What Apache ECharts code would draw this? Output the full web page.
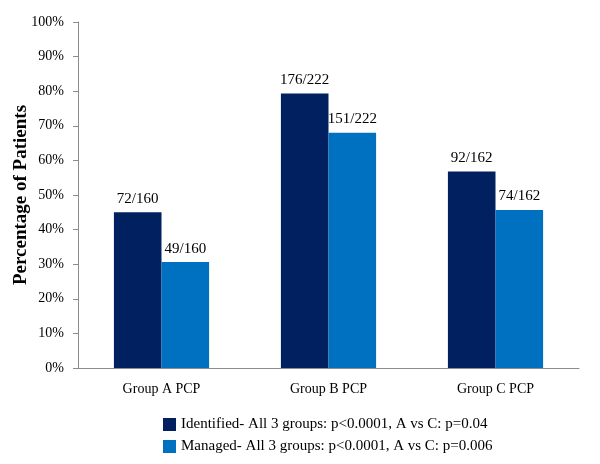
<!DOCTYPE html>
<html><head><meta charset="utf-8">
<script src="https://cdn.jsdelivr.net/npm/echarts@6/dist/echarts.min.js"></script>
<style>html,body{margin:0;padding:0;background:#fff}#c{width:600px;height:464px}</style>
</head><body><div id="c"></div>
<script>
const categories = ['Group A PCP', 'Group B PCP', 'Group C PCP'];
const identified = [45.0, 79.3, 56.8];
const managed = [30.6, 68.0, 45.7];
const identifiedLabels = ['72/160', '176/222', '92/162'];
const managedLabels = ['49/160', '151/222', '74/162'];
const seriesNames = ['Identified- All 3 groups: p<0.0001, A vs C: p=0.04', 'Managed- All 3 groups: p<0.0001, A vs C: p=0.006'];
const FONT = '"Liberation Serif", "DejaVu Serif", serif';
const chart = echarts.init(document.getElementById('c'));
chart.setOption({
  animation: false,
  textStyle: { fontFamily: FONT },
  grid: { left: 78, right: 21, top: 22, bottom: 96, containLabel: false, outerBoundsMode: 'none' },
  legend: {
    orient: 'vertical', left: 158, top: 412, itemWidth: 13, itemHeight: 13, itemGap: 7,
    icon: 'rect',
    textStyle: { fontFamily: FONT, fontSize: 15, color: '#000' },
    data: seriesNames
  },
  xAxis: {
    type: 'category', data: categories,
    axisLine: { lineStyle: { color: '#8c8c8c' } },
    axisTick: { show: false },
    axisLabel: { fontFamily: FONT, fontSize: 14, color: '#000', margin: 14 }
  },
  yAxis: {
    type: 'value', min: 0, max: 100, interval: 10,
    name: 'Percentage of Patients', nameLocation: 'middle', nameGap: 47, nameMoveOverlap: false,
    nameTextStyle: { fontFamily: FONT, fontSize: 19, fontWeight: 'bold', color: '#000' },
    axisLine: { show: true, lineStyle: { color: '#8c8c8c' } },
    axisTick: { show: true, length: 5, lineStyle: { color: '#8c8c8c' } },
    splitLine: { show: false },
    axisLabel: { fontFamily: FONT, fontSize: 14, color: '#000', margin: 14, formatter: '{value}%' }
  },
  series: [
    { name: seriesNames[0], type: 'bar', data: identified, barGap: '0%', barCategoryGap: '43%',
      itemStyle: { color: '#00205F' },
      label: { show: true, position: 'top', distance: 6, color: '#000', fontFamily: FONT, fontSize: 15,
        formatter: p => identifiedLabels[p.dataIndex] } },
    { name: seriesNames[1], type: 'bar', data: managed, barGap: '0%', barCategoryGap: '43%',
      itemStyle: { color: '#0070C0' },
      label: { show: true, position: 'top', distance: 6, color: '#000', fontFamily: FONT, fontSize: 15,
        formatter: p => managedLabels[p.dataIndex] } }
  ]
});
</script></body></html>
